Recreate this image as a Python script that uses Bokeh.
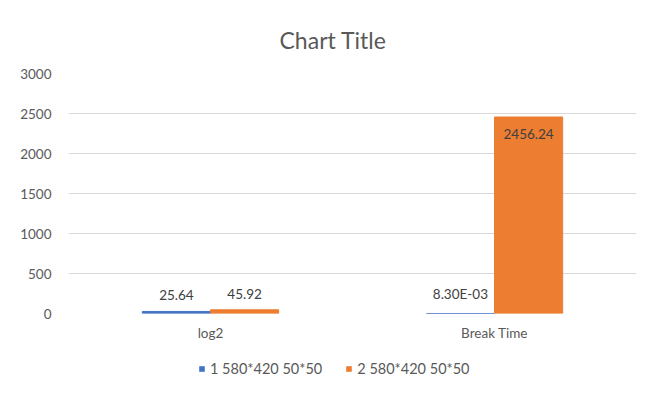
from bokeh.plotting import figure
from bokeh.layouts import column
from bokeh.models import (ColumnDataSource, FactorRange, Range1d, FixedTicker,
                          Legend, LegendItem)
from bokeh.transform import dodge
from bokeh.core.properties import value
from bokeh.embed import file_html
from bokeh.resources import INLINE

# --- data ---
categories = ["log2", "Break Time"]
series_names = ["1 580*420 50*50", "2 580*420 50*50"]
series_1 = [25.64, 0.0083]
series_2 = [45.92, 2456.24]
y_ticks = [0, 500, 1000, 1500, 2000, 2500, 3000]

BLUE = "#4472C4"
ORANGE = "#ED7D31"
TEXT = "#595959"
GRID = "#D9D9D9"
FONT = "Lato"
FS = "13.5px"

Y_MAX = y_ticks[-1]


def fmt(v):
    return f"{v:.2E}" if abs(v) < 0.01 else f"{v:.2f}"


p = figure(frame_width=568, frame_height=240,
           x_range=FactorRange(*categories, range_padding=0),
           y_range=Range1d(0, Y_MAX), output_backend="svg", toolbar_location=None,
           min_border_left=68, min_border_right=34, min_border_top=73,
           min_border_bottom=30)
p.outline_line_color = None
p.background_fill_color = "white"
p.border_fill_color = "white"

# title
p.title.text = "Chart Title"
p.title.align = "left"
p.title.text_font = FONT
p.title.text_font_size = "23px"
p.title.text_font_style = "normal"
p.title.text_color = TEXT
p.title.offset = 211
p.title.standoff = 39

# axes (the zero gridline serves as the category axis line)
p.yaxis.ticker = FixedTicker(ticks=y_ticks)
p.yaxis.axis_line_color = None
p.yaxis.major_tick_line_color = None
p.yaxis.minor_tick_line_color = None
p.yaxis.major_label_standoff = 11
p.yaxis.major_label_text_font = FONT
p.yaxis.major_label_text_font_size = FS
p.yaxis.major_label_text_color = TEXT

p.xaxis.axis_line_color = None
p.xaxis.major_tick_line_color = None
p.xaxis.minor_tick_line_color = None
p.xaxis.major_label_standoff = 5
p.xaxis.major_label_text_font = FONT
p.xaxis.major_label_text_font_size = FS
p.xaxis.major_label_text_color = TEXT

p.xgrid.grid_line_color = None
p.ygrid.ticker = FixedTicker(ticks=y_ticks)
p.ygrid.grid_line_color = GRID

# bars (a thin outline keeps near-zero bars visible as a line)
BAR_W = 0.24
colors = [BLUE, ORANGE]
src = ColumnDataSource(dict(cat=categories, s1=series_1, s2=series_2))
p.vbar(x=dodge("cat", -BAR_W / 2, range=p.x_range), top="s1", width=BAR_W,
       source=src, fill_color=BLUE, line_color=BLUE, line_width=1)
p.vbar(x=dodge("cat", BAR_W / 2, range=p.x_range), top="s2", width=BAR_W,
       source=src, fill_color=ORANGE, line_color=ORANGE, line_width=1)

# data labels: outside the bar end, or inside near the top of the plot
for off, vals in ((-BAR_W / 2, series_1), (BAR_W / 2, series_2)):
    outside = [i for i, v in enumerate(vals) if v <= Y_MAX * 0.75]
    inside = [i for i, v in enumerate(vals) if v > Y_MAX * 0.75]
    for idx, base, yoff in ((outside, "bottom", -11), (inside, "top", 12)):
        if not idx:
            continue
        sub = ColumnDataSource(dict(cat=[categories[i] for i in idx],
                                    y=[vals[i] for i in idx],
                                    t=[fmt(vals[i]) for i in idx]))
        p.text(x=dodge("cat", off, range=p.x_range), y="y", text="t", source=sub,
               text_align="center", text_baseline=base, y_offset=yoff,
               text_font=value(FONT), text_font_size=FS, text_color="#404040")

# legend strip under the chart; its swatch renderers reuse the series data but
# sit outside a y-range that excludes every bar, so only the legend shows
lf = figure(frame_width=670, frame_height=58,
            x_range=FactorRange(*categories, range_padding=0),
            y_range=Range1d(1e6, 2e6), output_backend="svg", toolbar_location=None,
            min_border=0, x_axis_type=None, y_axis_type=None)
lf.outline_line_color = None
lf.xgrid.visible = False
lf.ygrid.visible = False
swatches = [lf.vbar(x="cat", top=col, width=BAR_W, source=src,
                    fill_color=c, line_color=None)
            for col, c in zip(["s1", "s2"], colors)]
legend = Legend(items=[LegendItem(label=n, renderers=[r])
                       for n, r in zip(series_names, swatches)],
                orientation="horizontal", location=(198, 24), border_line_color=None,
                background_fill_alpha=0, glyph_width=7, glyph_height=7,
                label_standoff=5, spacing=23, padding=0, margin=0,
                label_text_font=FONT, label_text_font_size="14.5px",
                label_text_color=TEXT)
lf.add_layout(legend, "center")

layout = column(p, lf, spacing=0)
open("out.html", "w").write(file_html(layout, INLINE))
